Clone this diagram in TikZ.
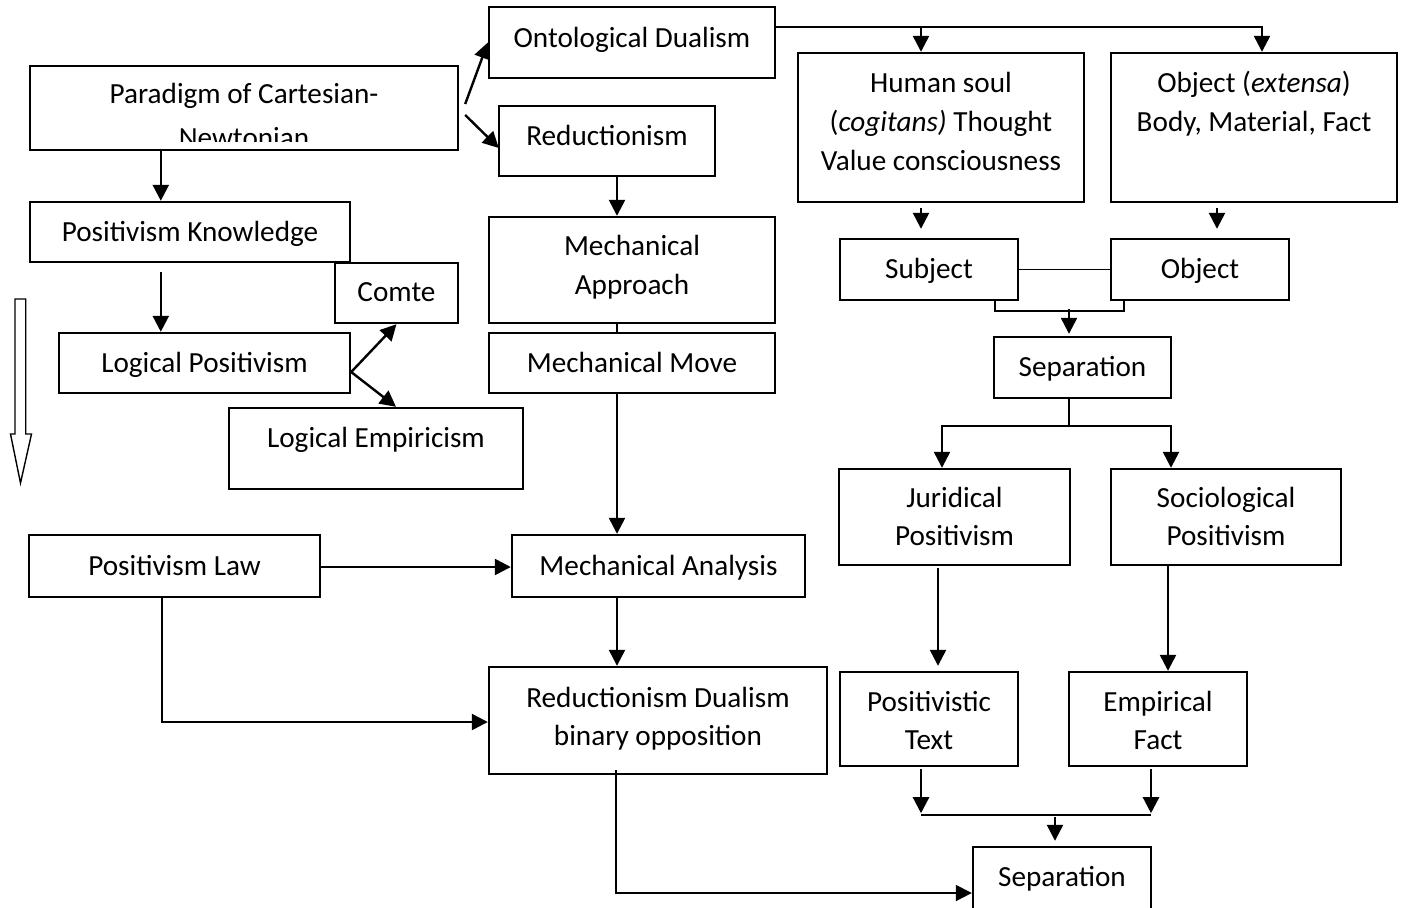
\documentclass[tikz,border=0pt]{standalone}
\usepackage{fontspec}
\setmainfont{Carlito}
\usetikzlibrary{arrows.meta,calc}
\tikzset{
  bx/.style 2 args={draw, line width=1.2pt, fill=white, rectangle, inner sep=0pt,
     minimum width=#1*0.5pt, minimum height=#2*0.5pt},
  tx/.style={anchor=base, inner sep=0pt, font=\fontsize{14.6pt}{19.5pt}\selectfont},
  ln/.style={line width=1.2pt},
  lnthin/.style={line width=0.9pt},
  arr/.style={line width=1.2pt, -{Triangle[length=8pt,width=8pt]}},
  arrthin/.style={line width=0.9pt, -{Triangle[length=8pt,width=8pt]}}
}
\begin{document}
\begin{tikzpicture}[x=0.5pt,y=-0.5pt]
\useasboundingbox (0,0) rectangle (1403,907);
\fill[white] (0,0) rectangle (1403,907);

% boxes
\node[bx={428}{84}] (par) at (244,108) {};
\node[bx={286}{71}] (onto) at (632,42.5) {};
\node[bx={216}{70}] (reduc) at (607,141) {};
\node[bx={286}{149}] (soul) at (941,127.5) {};
\node[bx={286}{149}] (objx) at (1254,127.5) {};
\node[bx={178}{61}] (subj) at (929,269.5) {};
\node[bx={178}{61}] (objs) at (1200,269.5) {};
\node[bx={320}{60}] (pk) at (190,232) {};
\node[bx={123}{60}] (comte) at (396.5,293) {};
\node[bx={291}{60}] (lp) at (204.5,363) {};
\node[bx={294}{81}] (le) at (376,448.5) {};
\node[bx={286}{106}] (mapp) at (632,270) {};
\node[bx={286}{60}] (mmove) at (632,363) {};
\node[bx={293}{62}] (manal) at (658.5,566) {};
\node[bx={291}{62}] (pl) at (174.5,566) {};
\node[bx={338}{107}] (rdb) at (658,720.5) {};
\node[bx={177}{61}] (sep1) at (1082.5,367.5) {};
\node[bx={231}{96}] (jur) at (954.5,517) {};
\node[bx={230}{96}] (soc) at (1226,517) {};
\node[bx={178}{94}] (ptxt) at (929,719) {};
\node[bx={178}{94}] (emp) at (1158,719) {};
\node[bx={178}{68}] (sep2) at (1062,881) {};

% texts
\node[tx] (par-t1) at (244,103) {Paradigm of Cartesian-};
\begin{scope}
\clip (par.north west) rectangle ($(par.south east)+(0,-10)$);
\node[tx] (par-t2) at (244,147) {Newtonian};
\end{scope}
\node[tx] (onto-t) at (632,47) {Ontological Dualism};
\node[tx] (reduc-t) at (607,145) {Reductionism};
\node[tx] (soul-t1) at (941,92) {Human soul};
\node[tx] (soul-t2) at (941,131) {(\textit{cogitans)} Thought};
\node[tx] (soul-t3) at (941,170) {Value consciousness};
\node[tx] (objx-t1) at (1254,92) {Object (\textit{extensa})};
\node[tx] (objx-t2) at (1254,131) {Body, Material, Fact};
\node[tx] (subj-t) at (929,278) {Subject};
\node[tx] (objs-t) at (1200,278) {Object};
\node[tx] (pk-t) at (190,241) {Positivism Knowledge};
\node[tx] (comte-t) at (396.5,301) {Comte};
\node[tx] (lp-t) at (204.5,372) {Logical Positivism};
\node[tx] (le-t) at (376,447) {Logical Empiricism};
\node[tx] (mapp-t1) at (632,255) {Mechanical};
\node[tx] (mapp-t2) at (632,294) {Approach};
\node[tx] (mmove-t) at (632,372) {Mechanical Move};
\node[tx] (manal-t) at (658.5,575) {Mechanical Analysis};
\node[tx] (pl-t) at (174.5,575) {Positivism Law};
\node[tx] (rdb-t1) at (658,707) {Reductionism Dualism};
\node[tx] (rdb-t2) at (658,745) {binary opposition};
\node[tx] (sep1-t) at (1082.5,376) {Separation};
\node[tx] (jur-t1) at (954.5,507) {Juridical};
\node[tx] (jur-t2) at (954.5,545) {Positivism};
\node[tx] (soc-t1) at (1226,507) {Sociological};
\node[tx] (soc-t2) at (1226,545) {Positivism};
\node[tx] (ptxt-t1) at (929,711) {Positivistic};
\node[tx] (ptxt-t2) at (929,749) {Text};
\node[tx] (emp-t1) at (1158,711) {Empirical};
\node[tx] (emp-t2) at (1158,749) {Fact};
\node[tx] (sep2-t) at (1062,886) {Separation};

% connectors
\draw[arr] ($(par.east)+(6,-4)$) -- (onto.west);
\draw[arr] ($(par.east)+(6,7)$) -- ($(reduc.west)+(1,7)$);

\coordinate (ot) at ($(onto.north east)+(0,21)$);
\coordinate (a1) at ($(soul.north)+(-20,0)$);
\coordinate (a2) at ($(objx.north)+(8,0)$);
\draw[arr] (ot) -| (a2);
\draw[arr] (a1 |- ot) -- (a1);

\coordinate (b1) at ($(par.south west)+(132,0)$);
\draw[arr] (b1) -- (b1 |- pk.north);
\coordinate (b2) at ($(pk.south west)+(132,9)$);
\draw[arr] (b2) -- (b2 |- lp.north);
\coordinate (b3) at ($(lp.east)+(0,9)$);
\draw[arr] (b3) -- (comte.south);
\draw[arr] (b3) -- ($(le.north)+(20,0)$);

\coordinate (c1) at ($(reduc.south)+(10,0)$);
\draw[arr] (c1) -- (c1 |- mapp.north);
\draw[ln] (c1 |- mapp.south) -- (c1 |- mmove.north);
\draw[arr] (c1 |- mmove.south) -- (c1 |- manal.north);
\draw[arr] (c1 |- manal.south) -- (c1 |- rdb.north);
\draw[arr] ($(pl.east)+(0,1)$) -- ($(manal.west)+(0,1)$);
\draw[arr] ($(pl.south)+(-12.5,0)$) |- ($(rdb.west)+(0,1.5)$);
\draw[arrthin] ($(rdb.south)+(-42,-5)$) |- ($(sep2.west)+(0,12)$);

\draw[arr] ($(soul.south)+(-20,5)$) -- ($(subj.north)+(-8,-9)$);
\draw[arr] ($(objx.south)+(-37,5)$) -- ($(objs.north)+(17,-9)$);
\draw[lnthin] (subj.east) -- (objs.west);
\draw[lnthin] ($(subj.south)+(66,0)$) -- ++(0,10) -| ($(objs.south)+(-76,0)$);
\draw[arr] ($(sep1.north)+(-13.5,-27)$) -- ($(sep1.north)+(-13.5,-2)$);

\coordinate (d0) at ($(sep1.south)+(-13.5,27)$);
\draw[lnthin] ($(sep1.south)+(-13.5,0)$) -- (d0);
\draw[arr] (d0) -| ($(jur.north)+(-12.5,0)$);
\draw[arr] (d0) -| ($(soc.north)+(-55,0)$);

\draw[arr] ($(jur.south)+(-16.5,2)$) -- ($(ptxt.north)+(9,-5)$);
\draw[arr] ($(soc.south)+(-58,0)$) -- ($(emp.north)+(10,0)$);

\coordinate (e1) at ($(ptxt.south)+(-8,46)$);
\coordinate (e2) at ($(emp.south)+(-7,46)$);
\draw[arr] ($(ptxt.south)+(-8,2)$) -- (e1);
\draw[arr] ($(emp.south)+(-7,2)$) -- (e2);
\draw[ln] ($(e1)+(0,2)$) -- ($(e2)+(0,2)$);
\draw[arr] ($(sep2.north)+(-7,-29)$) -- ($(sep2.north)+(-7,-5)$);

% hollow arrow
\draw[line width=0.7pt, fill=white] (15,299) -- (25.7,299) -- (25.7,434) -- (31.5,434)
  -- (20.5,483) -- (10.5,434) -- (15,434) -- cycle;
\end{tikzpicture}
\end{document}
